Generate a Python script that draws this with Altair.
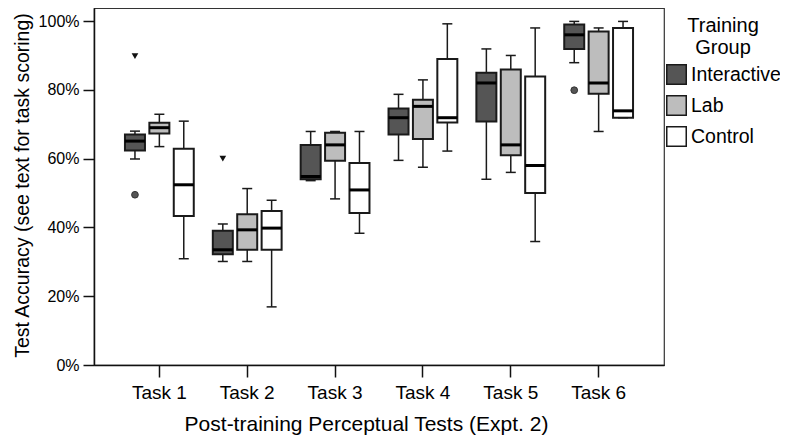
import altair as alt
import pandas as pd

tasks = ["Task 1", "Task 2", "Task 3", "Task 4", "Task 5", "Task 6"]
groups = ["Interactive", "Lab", "Control"]
colors = ["#555555", "#bdbdbd", "#ffffff"]

# per group: values per task (percent)
interactive_lo  = [59.9, 30.1, 53.6, 59.5, 54.0, 87.9]
interactive_q1  = [62.4, 32.2, 54.0, 67.0, 70.8, 91.9]
interactive_med = [65.1, 33.5, 54.8, 71.9, 82.0, 96.0]
interactive_q3  = [67.0, 39.0, 64.0, 74.6, 85.0, 99.0]
interactive_hi  = [68.0, 41.0, 67.9, 78.7, 91.9, 99.9]

lab_lo  = [63.5, 30.1, 48.3, 57.5, 56.0, 67.9]
lab_q1  = [67.3, 33.5, 59.4, 65.7, 61.0, 78.9]
lab_med = [69.0, 39.3, 64.0, 75.2, 64.0, 82.0]
lab_q3  = [70.4, 43.8, 67.5, 77.1, 85.9, 97.0]
lab_hi  = [72.9, 51.3, 67.9, 82.9, 90.0, 98.0]

control_lo  = [30.9, 16.9, 38.3, 62.2, 35.9, 71.9]
control_q1  = [43.3, 33.5, 44.2, 70.5, 50.0, 71.9]
control_med = [52.4, 39.8, 50.9, 71.9, 58.0, 73.9]
control_q3  = [62.9, 44.8, 58.7, 89.0, 83.9, 98.0]
control_hi  = [70.9, 47.9, 67.9, 99.2, 98.0, 99.9]

circle_task  = ["Task 1", "Task 6"]
circle_group = ["Interactive", "Interactive"]
circle_value = [49.5, 79.9]

tri_task  = ["Task 1", "Task 2"]
tri_group = ["Interactive", "Interactive"]
tri_value = [89.8, 60.0]

rows = []
for g, lo, q1, med, q3, hi in [
    ("Interactive", interactive_lo, interactive_q1, interactive_med, interactive_q3, interactive_hi),
    ("Lab", lab_lo, lab_q1, lab_med, lab_q3, lab_hi),
    ("Control", control_lo, control_q1, control_med, control_q3, control_hi),
]:
    for i, t in enumerate(tasks):
        rows.append({"task": t, "group": g, "lo": lo[i], "q1": q1[i],
                     "med": med[i], "q3": q3[i], "hi": hi[i]})
df = pd.DataFrame(rows)
circ = pd.DataFrame({"task": circle_task, "group": circle_group, "v": circle_value})
tri = pd.DataFrame({"task": tri_task, "group": tri_group, "v": tri_value})

FONT = "Liberation Sans"

x = alt.X("task:N", sort=tasks,
          scale=alt.Scale(paddingInner=0, paddingOuter=0.244),
          axis=alt.Axis(title="Post-training Perceptual Tests (Expt. 2)",
                        labelAngle=0, tickSize=12, labelPadding=6,
                        labelFontSize=19, titleFontSize=21,
                        titleX=272, titleY=65, titleBaseline="alphabetic"))
xo = alt.XOffset("group:N", sort=groups,
                 scale=alt.Scale(domain=groups, paddingInner=0, paddingOuter=0.3))
yscale = alt.Scale(domain=[0, 103.8], nice=False, zero=True)
yaxis = alt.Axis(title="Test Accuracy (see text for task scoring)",
                 values=[0, 20, 40, 60, 80, 100],
                 labelExpr="datum.value + '%'",
                 tickSize=11, labelPadding=4, labelFontSize=16, titleFontSize=19.5,
                 titleX=-66, titleY=177, titleBaseline="alphabetic")

base = alt.Chart(df)

whisker = base.mark_rule(color="#1a1a1a", strokeWidth=1.5, opacity=1).encode(
    x=x, xOffset=xo, y=alt.Y("lo:Q", scale=yscale, axis=yaxis), y2="hi:Q")

box = base.mark_bar(size=20, stroke="#1a1a1a", strokeWidth=2, opacity=1).encode(
    x=x, xOffset=xo, y=alt.Y("q1:Q", scale=yscale), y2="q3:Q",
    fill=alt.Fill("group:N", sort=groups,
                  scale=alt.Scale(domain=groups, range=colors),
                  legend=alt.Legend(title=["Training", "Group"], orient="none",
                                    legendX=572, legendY=8,
                                    symbolType="square", symbolSize=380,
                                    symbolStrokeColor="#1a1a1a", symbolStrokeWidth=1.5,
                                    symbolOpacity=1,
                                    labelFontSize=19.5, titleFontSize=20,
                                    titleFontWeight="normal", titleAnchor="middle",
                                    titleAlign="center", titleLineHeight=22,
                                    titlePadding=6, rowPadding=4, labelOffset=4,
                                    padding=0)))

median = base.mark_tick(size=20, thickness=3, color="black", opacity=1).encode(
    x=x, xOffset=xo, y=alt.Y("med:Q", scale=yscale))

cap_lo = base.mark_tick(size=10, thickness=1.5, color="#1a1a1a", opacity=1).encode(
    x=x, xOffset=xo, y=alt.Y("lo:Q", scale=yscale))
cap_hi = base.mark_tick(size=10, thickness=1.5, color="#1a1a1a", opacity=1).encode(
    x=x, xOffset=xo, y=alt.Y("hi:Q", scale=yscale))

circles = alt.Chart(circ).mark_point(shape="circle", filled=True, size=45,
                                     fill="#555555", stroke="#333333",
                                     strokeWidth=1, opacity=1).encode(
    x=x, xOffset=xo, y=alt.Y("v:Q", scale=yscale))
tris = alt.Chart(tri).mark_point(shape="triangle-down", filled=True, size=45,
                                 fill="#111111", opacity=1).encode(
    x=x, xOffset=xo, y=alt.Y("v:Q", scale=yscale))

chart = alt.layer(whisker, box, median, cap_lo, cap_hi, circles, tris).properties(
    width=570, height=357,
    autosize=alt.AutoSizeParams(type="none"),
    padding={"left": 86, "top": 0, "right": 116, "bottom": 72},
).configure_view(stroke="#333333", strokeWidth=1.2).configure_axis(
    grid=False, domainColor="#111111", domainWidth=1.5, tickColor="#111111",
    tickWidth=1.5, labelColor="black", titleColor="black",
    labelFont=FONT, titleFont=FONT, titleFontWeight="normal",
).configure_legend(labelFont=FONT, titleFont=FONT, labelColor="black",
                   titleColor="black")

chart.save("out.html", embed_options={"renderer": "svg", "actions": False})
